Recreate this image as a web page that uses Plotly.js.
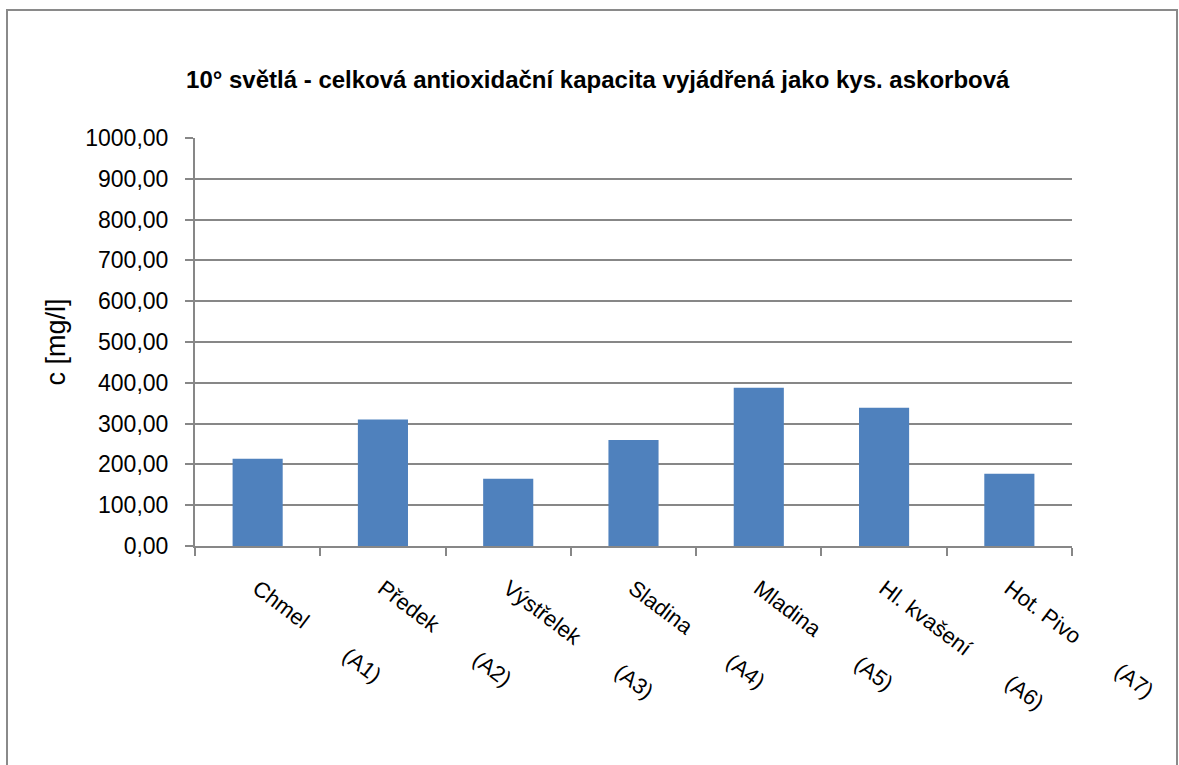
<!DOCTYPE html>
<html>
<head>
<meta charset="utf-8">
<script src="https://cdn.plot.ly/plotly-3.0.1.min.js"></script>
<style>
  html, body { margin: 0; padding: 0; background: #ffffff; }
  #chart { width: 1179px; height: 765px; }
</style>
</head>
<body>
<div id="chart"></div>
<script>
const categories = ["Chmel", "Předek", "Výstřelek", "Sladina", "Mladina", "Hl. kvašení", "Hot. Pivo"];
const codes = ["(A1)", "(A2)", "(A3)", "(A4)", "(A5)", "(A6)", "(A7)"];
const values = [214, 310, 165, 260, 388, 339, 177];
const yTickValues = [0, 100, 200, 300, 400, 500, 600, 700, 800, 900, 1000];

const gap = "\u00A0".repeat(8);
const tickLabels = categories.map((c, i) => c + gap + codes[i]);

const font = "Liberation Sans, Arial, sans-serif";
const gray = "#878787";

const trace = {
  type: "bar",
  x: categories,
  y: values,
  marker: { color: "#4F81BD", line: { width: 0 } },
  hoverinfo: "x+y"
};

const layout = {
  width: 1179,
  height: 765,
  margin: { l: 195, r: 107, t: 138, b: 219 },
  paper_bgcolor: "#ffffff",
  plot_bgcolor: "#ffffff",
  separators: ",.",
  showlegend: false,
  bargap: 0.6,
  font: { family: font, color: "#000000" },
  title: {
    text: "<b>10° světlá - celková antioxidační kapacita vyjádřená jako kys. askorbová</b>",
    font: { family: font, size: 24, color: "#000000" },
    xref: "container", x: 0.507, xanchor: "center",
    yref: "container", y: 1 - 80 / 765, yanchor: "middle"
  },
  xaxis: {
    type: "category",
    tickmode: "array",
    tickvals: categories,
    ticktext: tickLabels,
    tickangle: 37,
    tickson: "boundaries",
    ticks: "outside",
    ticklen: 8,
    tickwidth: 2,
    tickcolor: gray,
    showline: true,
    linecolor: gray,
    linewidth: 2,
    showgrid: false,
    zeroline: false,
    tickfont: { family: font, size: 22, color: "#000000" },
    ticklabelstandoff: 19
  },
  yaxis: {
    range: [0, 1000],
    tickmode: "array",
    tickvals: yTickValues,
    tickformat: ".2f",
    ticks: "outside",
    ticklen: 8,
    tickwidth: 2,
    tickcolor: gray,
    showline: true,
    linecolor: gray,
    linewidth: 2,
    showgrid: true,
    gridcolor: gray,
    gridwidth: 2,
    zeroline: false,
    tickfont: { family: font, size: 23, color: "#000000" },
    ticklabelstandoff: 12,
    title: {
      text: "c [mg/l]",
      font: { family: font, size: 27, color: "#000000" },
      standoff: 12
    }
  },
  shapes: [
    {
      type: "rect", xref: "paper", yref: "paper",
      x0: (7 - 195) / 877, x1: (1177 - 195) / 877,
      y0: (546 - 775) / 408, y1: (546 - 10) / 408,
      line: { color: "#8a8a8a", width: 2 },
      fillcolor: "rgba(0,0,0,0)",
      layer: "above"
    }
  ]
};

Plotly.newPlot("chart", [trace], layout, { displayModeBar: false, staticPlot: true });
</script>
</body>
</html>
